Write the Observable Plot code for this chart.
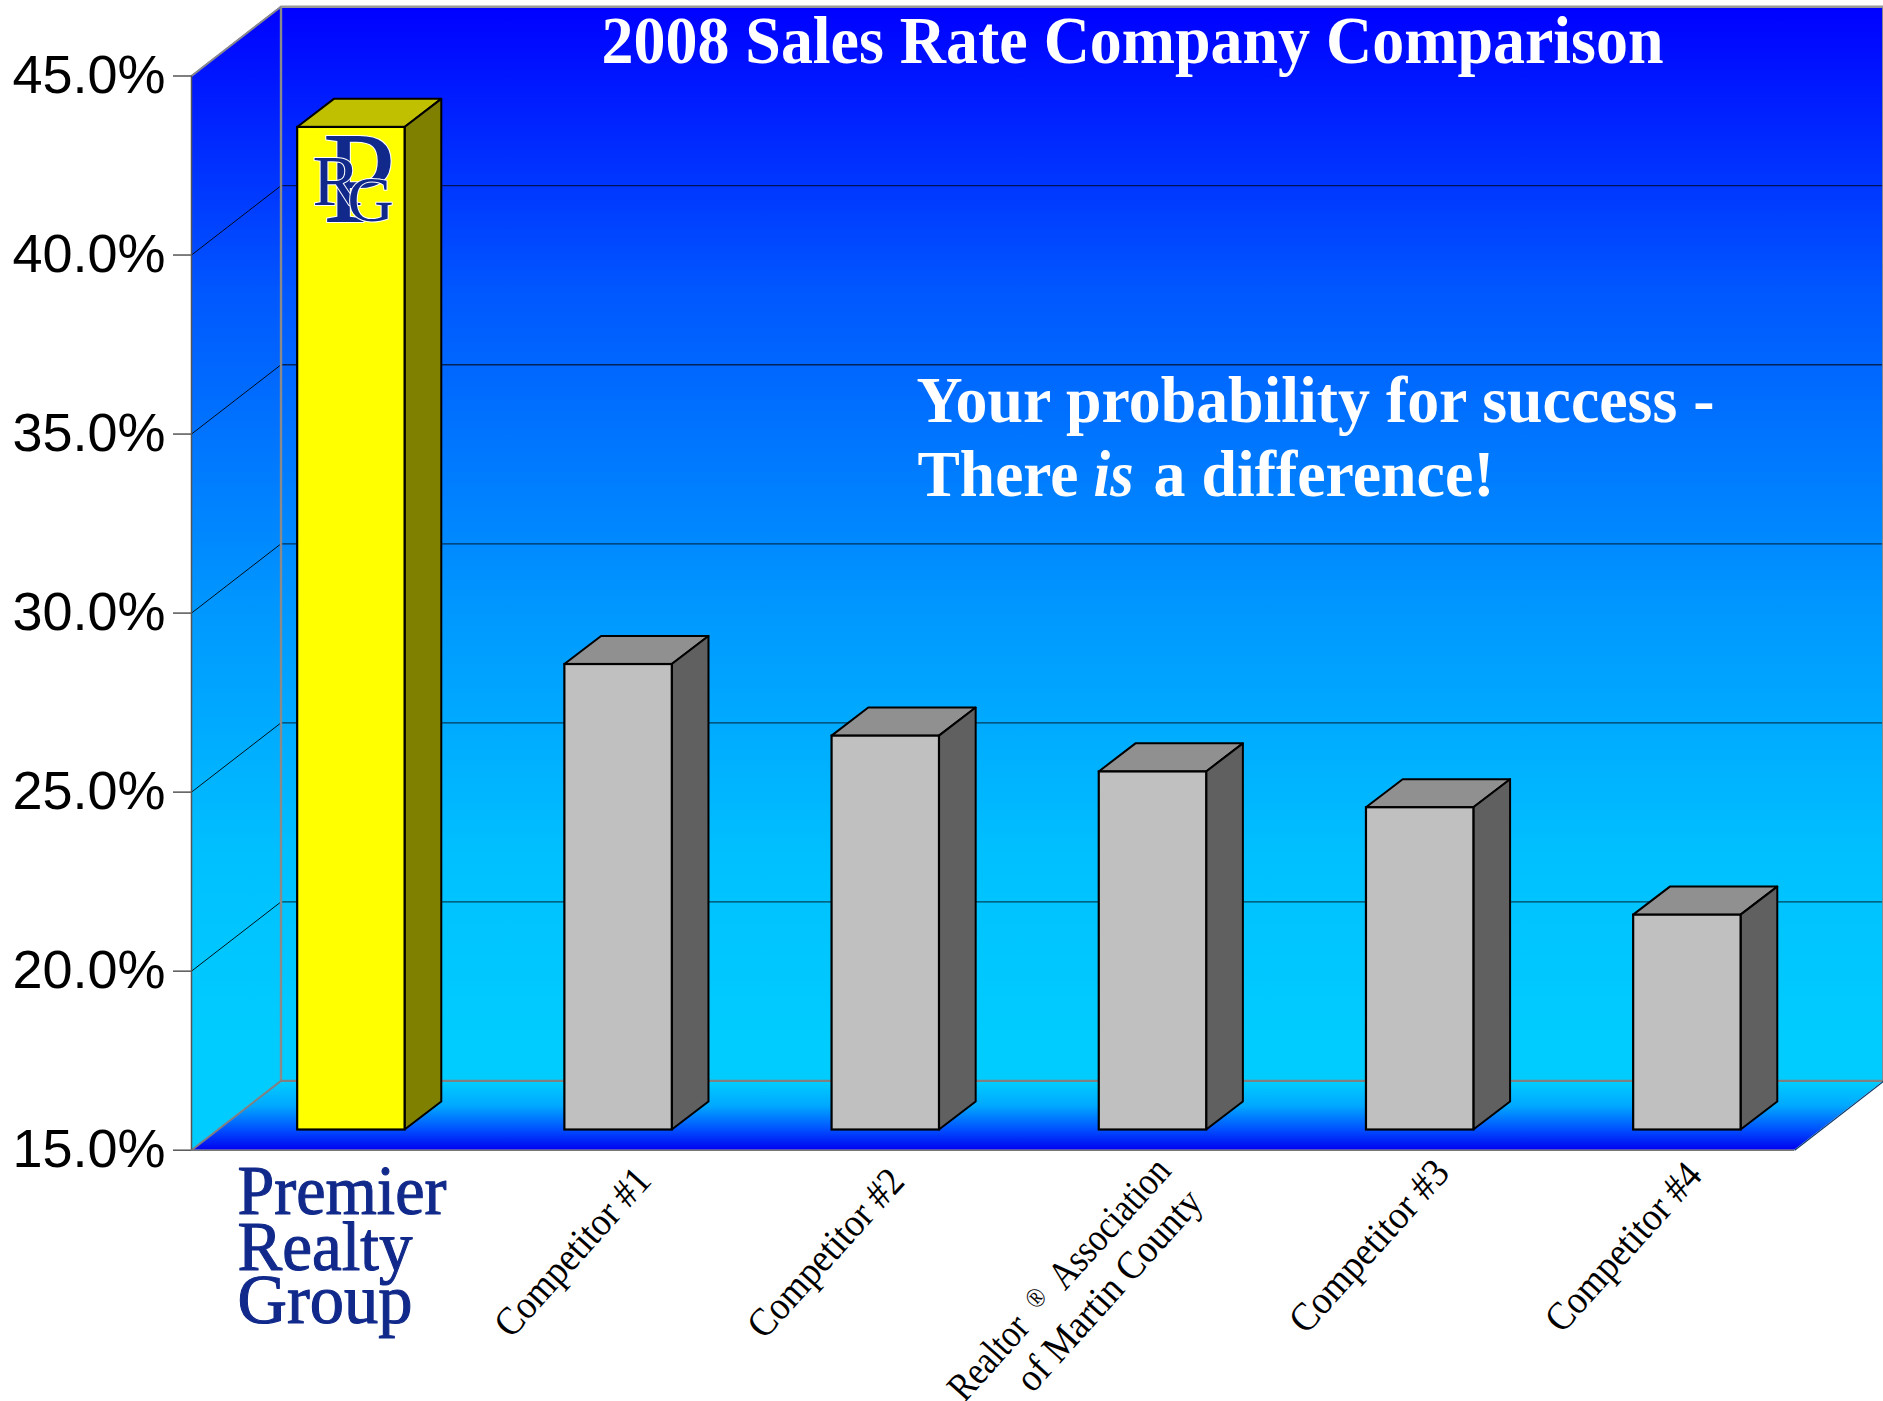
<!DOCTYPE html>
<html>
<head>
<meta charset="utf-8">
<script src="https://cdn.jsdelivr.net/npm/d3@7"></script>
<script src="https://cdn.jsdelivr.net/npm/@observablehq/plot@0.6"></script>
<style>
html,body{margin:0;padding:0;background:#fff}
svg{display:block}
</style>
</head>
<body>
<div id="chart"></div>
<script>
// ---- data ----
const categories = ["Premier Realty Group","Competitor #1","Competitor #2","Realtor Association of Martin County","Competitor #3","Competitor #4"];
const salesRate = [43.0,28.0,26.0,25.0,24.0,21.0];
const yTicks = [15,20,25,30,35,40,45];
const gridValues = [20,25,30,35,40];
const labelLines = ["Competitor #1","Competitor #2","Realtor \u00AE Association","of Martin County","Competitor #3","Competitor #4"];
const labelBar = [1,2,3,3,4,5];

// ---- layout of the 3-D box, in scale units ----
const W=1883,H=1401;
const mL=191,mR=88.8,mT=75.5,mB=251.3;
const dS=89.5/267.2, dV=69.3/35.8;      // full box depth, in slots and in percent
const bz0=0.313, bzS=0.41, bzV=0.405;    // bar front plane and bar depth (fraction of box depth)
const barGap=0.2925, barW=0.402, barDrop=0.042;
const labelDx=[-46,-60,-94,-44,-51,-64];
const labelDy=[102,103,129,140,96,97];
const labelLen=[212,212,311,256,217,212];
const navy="#10298a", serif="'Liberation Serif','Times New Roman',serif";

const bars=categories.map((c,i)=>({c,i,v:salesRate[i],
  l:i+barGap+bz0*dS, r:i+barGap+bz0*dS+barW,
  b:15+bz0*dV-barDrop, t:salesRate[i]+bz0*dV-barDrop,
  front:i===0?"#ffff00":"#c0c0c0", top:i===0?"#c0c000":"#909090", side:i===0?"#808000":"#606060"}));
const topFace=bars.flatMap(d=>[{i:d.i,fill:d.top,x1:d.l,x2:d.r,y:d.t},{i:d.i,fill:d.top,x1:d.l+bzS*dS,x2:d.r+bzS*dS,y:d.t+bzV*dV}]);
const sideFace=bars.flatMap(d=>[{i:d.i,fill:d.side,x:d.r,y1:d.b,y2:d.t},{i:d.i,fill:d.side,x:d.r+bzS*dS,y1:d.b+bzV*dV,y2:d.t+bzV*dV}]);

function gradient(id,y1,y2,stops){
  const g=d3.create("svg:linearGradient").attr("id",id).attr("gradientUnits","userSpaceOnUse")
    .attr("x1",0).attr("x2",0).attr("y1",y1).attr("y2",y2);
  stops.forEach(([o,c])=>g.append("stop").attr("offset",o).attr("stop-color",c));
  return g.node();
}
const defsMark=()=>{
  const d=d3.create("svg:defs").node();
  const wall=[[0,"#0000ff"],[0.27,"#0058ff"],[0.57,"#0099ff"],[0.79,"#00c0ff"],[0.96,"#00ccff"],[1,"#00ccff"]];
  d.appendChild(gradient("wallBack",5,1080,wall));
  d.appendChild(gradient("wallLeft",5,1080,wall));
  d.appendChild(gradient("floorG",1082,1150,[[0,"#00ccff"],[0.35,"#00a8ff"],[0.7,"#0050ff"],[1,"#0000f0"]]));
  return d;
};
// squeeze a text run to the width it has in the reference
const fit=(len)=>function(index,scales,values,dims,ctx,next){
  const g=next(index,scales,values,dims,ctx);
  g.querySelectorAll("text").forEach(t=>{t.setAttribute("textLength",len);t.setAttribute("lengthAdjust","spacingAndGlyphs");
    if(t.textContent.includes("\u00AE")){
      const [a,b]=t.textContent.split("\u00AE");
      t.textContent="";
      const span=(s,attrs)=>{const e=document.createElementNS("http://www.w3.org/2000/svg","tspan");e.textContent=s;Object.entries(attrs).forEach(([k,v])=>e.setAttribute(k,v));t.appendChild(e);};
      span(a+"\u00A0",{});
      span("\u00AE",{"font-size":"70%",dy:"-0.3em"});
      span("\u00A0"+b,{dy:"0.21em"});
    }
  });
  return g;
};
const place=(t,px,py,len,o)=>Plot.text([t],{frameAnchor:"top-left",dx:px-mL,dy:py-mT,textAnchor:"start",lineAnchor:"bottom",fontFamily:serif,render:len?fit(len):undefined,...o});
const white={fill:"white",fontWeight:"bold",fontSize:66};
const word={fill:navy,stroke:navy,strokeWidth:1.1,fontSize:70};
const mono={fill:navy,stroke:"#fff",strokeWidth:2};

const plot=Plot.plot({
  width:W,height:H,marginLeft:mL,marginRight:mR,marginTop:mT,marginBottom:mB,
  style:{background:"#fff"},
  x:{domain:[0,6],axis:null},
  y:{domain:[15,45],axis:null},
  marks:[
    defsMark,
    // walls and floor
    Plot.area([{x:0,y1:15,y2:45},{x:dS,y1:15+dV,y2:45+dV}],{x1:"x",x2:"x",y1:"y1",y2:"y2",fill:"url(#wallLeft)"}),
    Plot.rect([0],{x1:dS,x2:6+dS,y1:15+dV,y2:45+dV,fill:"url(#wallBack)"}),
    Plot.area([{y:15,x1:0,x2:6},{y:15+dV,x1:dS,x2:6+dS}],{x1:"x1",x2:"x2",y1:"y",y2:"y",fill:"url(#floorG)"}),
    // grid
    Plot.ruleY(gridValues,{y:d=>d+dV,x1:dS,x2:6+dS,stroke:"#000",strokeWidth:1.3,strokeOpacity:0.65}),
    Plot.link(gridValues,{x1:0,y1:d=>d,x2:dS,y2:d=>d+dV,stroke:"#000",strokeWidth:1,strokeOpacity:0.9}),
    // box edges
    Plot.ruleX([dS,6+dS-0.0035],{y1:15+dV,y2:45+dV,stroke:"#8a8a8a",strokeWidth:2.4}),
    Plot.ruleY([45+dV],{x1:dS,x2:6+dS,stroke:"#999",strokeWidth:2.6}),
    Plot.ruleY([15+dV],{x1:dS,x2:6+dS,stroke:"#808080",strokeWidth:2.2}),
    Plot.link([0],{x1:0,y1:45,x2:dS,y2:45+dV,stroke:"#8a8a8a",strokeWidth:2}),
    Plot.link([0],{x1:0,y1:15,x2:dS,y2:15+dV,stroke:"#808080",strokeWidth:2}),
    Plot.link([0],{x1:6,y1:15,x2:6+dS,y2:15+dV,stroke:"#0a3a70",strokeWidth:1.2}),
    Plot.ruleX([0],{y1:15,y2:45,stroke:"#555",strokeWidth:1.5}),
    Plot.ruleY([15],{x1:0,x2:6,stroke:"#777",strokeWidth:1.6}),
    // axis
    Plot.axisY({ticks:yTicks,tickFormat:d=>d.toFixed(1)+"%",label:null,anchor:"left",tickSize:18,tickPadding:8,
      fontSize:54,fontFamily:"'Liberation Sans',Arial,sans-serif",stroke:"#555",strokeWidth:1.5,fill:"#000"}),
    // bars
    Plot.area(topFace,{x1:"x1",x2:"x2",y1:"y",y2:"y",z:"i",fill:"fill",stroke:"#000",strokeWidth:2}),
    Plot.area(sideFace,{x1:"x",x2:"x",y1:"y1",y2:"y2",z:"i",fill:"fill",stroke:"#000",strokeWidth:2}),
    Plot.rect(bars,{x1:"l",x2:"r",y1:"b",y2:"t",fill:"front",stroke:"#000",strokeWidth:2.2}),
    // monogram on the first bar
    place("P",322,221,null,{...mono,fontSize:132}),
    place("R",312,204,null,{...mono,fontSize:72}),
    place("G",347,220,null,{...mono,fontSize:64}),
    // title and message
    place("2008 Sales Rate Company Comparison",601,62,1062,{...white,fontSize:68}),
    place("Your probability for success -",916,421,798,white),
    place("There",917,495,161,white),
    place("is",1093,495,40,{...white,fontStyle:"italic"}),
    place("a difference!",1153,495,341,white),
    // logo wordmark
    place("Premier",237,1213,209,word),
    place("Realty",237,1269,175,word),
    place("Group",237,1322,175,word),
    // rotated category labels
    ...labelLines.map((t,i)=>Plot.text([t],{
      x:()=>labelBar[i]+barGap+bz0*dS+barW/2, y:()=>15, dx:labelDx[i], dy:labelDy[i],
      rotate:-48,textAnchor:"middle",lineAnchor:"middle",fontFamily:serif,fontSize:40,fill:"#000",render:fit(labelLen[i])}))
  ]
});
document.getElementById("chart").appendChild(plot);
</script>
</body>
</html>
